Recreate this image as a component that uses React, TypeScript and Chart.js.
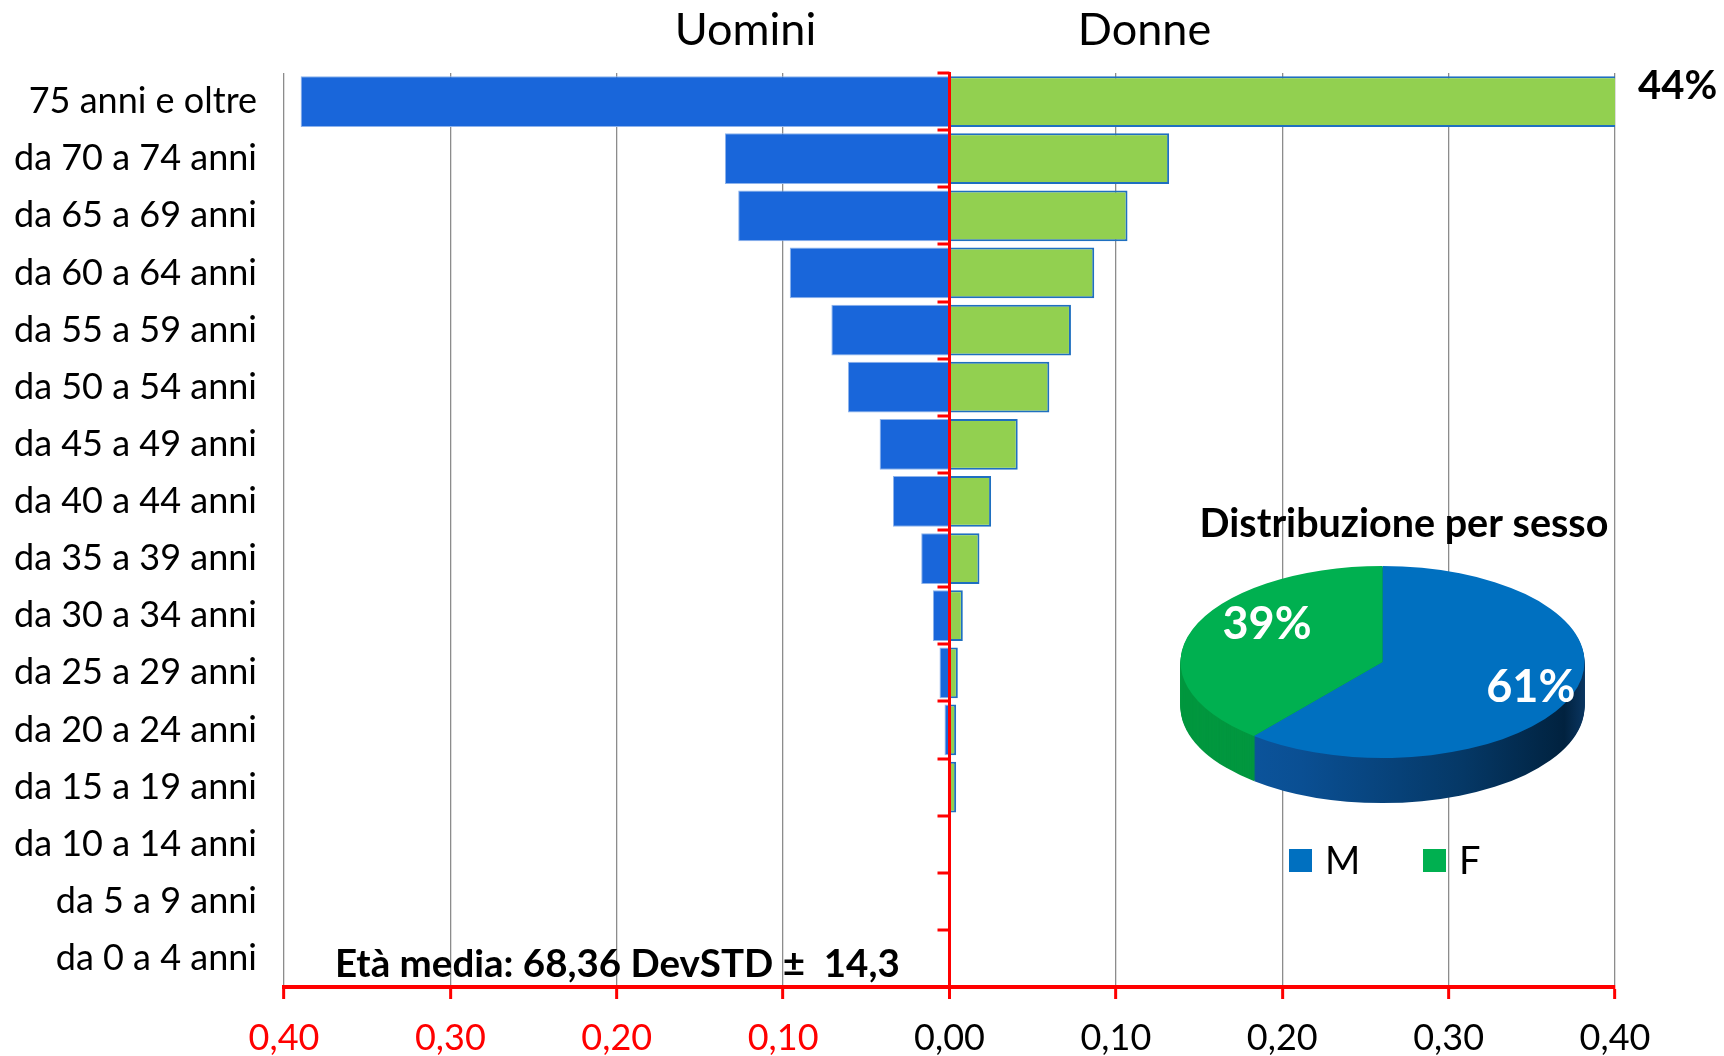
import React, { useEffect, useRef } from 'react';
import { Chart, registerables } from 'chart.js';

Chart.register(...registerables);

// ---------- data ----------
const categories = [
  '75 anni e oltre',
  'da 70 a 74 anni',
  'da 65 a 69 anni',
  'da 60 a 64 anni',
  'da 55 a 59 anni',
  'da 50 a 54 anni',
  'da 45 a 49 anni',
  'da 40 a 44 anni',
  'da 35 a 39 anni',
  'da 30 a 34 anni',
  'da 25 a 29 anni',
  'da 20 a 24 anni',
  'da 15 a 19 anni',
  'da 10 a 14 anni',
  'da 5 a 9 anni',
  'da 0 a 4 anni',
];
const maleShares = [0.39, 0.135, 0.127, 0.096, 0.071, 0.061, 0.042, 0.034, 0.017, 0.010, 0.006, 0.003, 0.001, 0, 0, 0];
const femaleShares = [0.44, 0.132, 0.107, 0.087, 0.073, 0.060, 0.041, 0.025, 0.018, 0.008, 0.005, 0.004, 0.004, 0, 0, 0];
const xMin = -0.4;
const xMax = 0.4;
const xStep = 0.1;
const sideTitles = ['Uomini', 'Donne'];
const meanAgeNote = 'Età media: 68,36 DevSTD ±  14,3';

const pieTitle = 'Distribuzione per sesso';
const pieLabels = ['M', 'F'];
const pieValues = [61, 39];
const pieColors = ['#0070c0', '#00b050'];

const FONT = 'Lato, "Noto Sans", sans-serif';
const W = 1724;
const H = 1056;

const fmtTick = (v: number) => Math.abs(v).toFixed(2).replace('.', ',');
const isZero = (v: number) => Math.abs(v) < 1e-9;

// ---------- bar chart overlay plugin ----------
const barOverlay = {
  id: 'barOverlay',
  afterDatasetsDraw(chart: any) {
    const { ctx, chartArea, scales } = chart;
    const xs = scales.x;
    const ys = scales.y;
    const x0 = xs.getPixelForValue(0);
    ctx.save();
    // red zero axis
    ctx.strokeStyle = '#ff0000';
    ctx.lineWidth = 3;
    ctx.beginPath();
    ctx.moveTo(x0, chartArea.top - 1);
    ctx.lineTo(x0, chartArea.bottom);
    ctx.stroke();
    // category boundary ticks
    for (let i = 0; i <= categories.length; i++) {
      const y = Math.round(ys.getPixelForValue(i - 0.5));
      ctx.beginPath();
      ctx.moveTo(x0 - 12, y);
      ctx.lineTo(x0, y);
      ctx.stroke();
    }
    // value labels for bars beyond the axis maximum
    const meta = chart.getDatasetMeta(1);
    femaleShares.forEach((v, i) => {
      if (v > xMax) {
        const bar = meta.data[i];
        ctx.fillStyle = '#000';
        ctx.font = `bold 40px ${FONT}`;
        ctx.textAlign = 'left';
        ctx.textBaseline = 'middle';
        ctx.fillText(`${Math.round(v * 100)}%`, chartArea.right + 23, bar.y - 15);
      }
    });
    ctx.restore();
  },
  afterDraw(chart: any) {
    const { ctx, chartArea } = chart;
    const x0 = chart.scales.x.getPixelForValue(0);
    ctx.save();
    ctx.fillStyle = '#000';
    ctx.textBaseline = 'middle';
    ctx.textAlign = 'center';
    ctx.font = `45px ${FONT}`;
    ctx.fillText(sideTitles[0], x0 - 204, 30);
    ctx.fillText(sideTitles[1], x0 + 195, 30);
    ctx.textAlign = 'left';
    ctx.textBaseline = 'alphabetic';
    ctx.font = `bold 38.5px ${FONT}`;
    ctx.fillText(meanAgeNote, chartArea.left + 51, 977);
    ctx.restore();
  },
};

// ---------- 3D pie plugin ----------
const PCX = 232.5;
const PCY = 182;
const PRX = 202;
const PRY = 96;
const PDEPTH = 45;

const pie3d = {
  id: 'pie3d',
  beforeDatasetsDraw(chart: any) {
    const { ctx } = chart;
    const meta = chart.getDatasetMeta(0);
    const a0 = meta.data[0];
    const r = a0.outerRadius;
    // side walls
    const gBlue = ctx.createLinearGradient(PCX - PRX, 0, PCX + PRX, 0);
    gBlue.addColorStop(0, '#0d5aa6');
    gBlue.addColorStop(0.3, '#0a4f93');
    gBlue.addColorStop(0.7, '#053866');
    gBlue.addColorStop(0.95, '#01223f');
    gBlue.addColorStop(1, '#0a3560');
    const sideFills = [gBlue, '#02973f'];
    for (let d = PDEPTH; d >= 1; d--) {
      meta.data.forEach((arc: any, i: number) => {
        ctx.beginPath();
        ctx.moveTo(PCX, PCY + d);
        ctx.ellipse(PCX, PCY + d, PRX, PRY, 0, arc.startAngle, arc.endAngle);
        ctx.closePath();
        ctx.fillStyle = sideFills[i];
        ctx.fill();
      });
    }
    // top face: map Chart.js circle onto the ellipse
    ctx.save();
    ctx.translate(PCX, PCY);
    ctx.scale(PRX / r, PRY / r);
    ctx.translate(-a0.x, -a0.y);
  },
  afterDatasetsDraw(chart: any) {
    const { ctx } = chart;
    ctx.restore();
    const meta = chart.getDatasetMeta(0);
    const total = pieValues.reduce((a, b) => a + b, 0);
    ctx.save();
    ctx.fillStyle = '#ffffff';
    ctx.font = `bold 45px ${FONT}`;
    ctx.textAlign = 'center';
    ctx.textBaseline = 'middle';
    meta.data.forEach((arc: any, i: number) => {
      const mid = (arc.startAngle + arc.endAngle) / 2;
      const f = 0.78;
      let x = PCX + Math.cos(mid) * PRX * f;
      const y = PCY + Math.sin(mid) * PRY * f - (Math.cos(mid) < 0 ? 12 : 0);
      // keep label inside the top ellipse
      const half = ctx.measureText('00%').width / 2;
      const dy = (y - PCY) / PRY;
      const lim = PRX * Math.sqrt(Math.max(0, 1 - dy * dy)) - half - 26;
      if (x - PCX < -lim) x = PCX - lim;
      ctx.fillText(`${Math.round((pieValues[i] / total) * 100)}%`, x, y);
    });
    // legend
    const legendX = [139, 273];
    const ly = 381;
    ctx.font = `38px ${FONT}`;
    ctx.textAlign = 'left';
    pieLabels.forEach((lab, i) => {
      ctx.fillStyle = pieColors[i];
      ctx.fillRect(legendX[i], ly - 12, 23, 23);
      ctx.fillStyle = '#000';
      ctx.fillText(lab, legendX[i] + 36, ly + 1);
    });
    ctx.restore();
  },
};

export default function App() {
  const barRef = useRef<HTMLCanvasElement>(null);
  const pieRef = useRef<HTMLCanvasElement>(null);

  useEffect(() => {
    const bar = new Chart(barRef.current as HTMLCanvasElement, {
      type: 'bar',
      data: {
        labels: categories,
        datasets: [
          {
            label: sideTitles[0],
            data: maleShares.map((v) => -v),
            backgroundColor: '#1966da',
            borderColor: '#8db3ec',
            borderWidth: 1,
            barPercentage: 0.887,
            categoryPercentage: 1,
          },
          {
            label: sideTitles[1],
            data: femaleShares,
            backgroundColor: '#92d050',
            borderColor: '#1f6fc0',
            borderWidth: 2,
            barPercentage: 0.887,
            categoryPercentage: 1,
          },
        ],
      },
      options: {
        indexAxis: 'y',
        responsive: false,
        animation: false,
        layout: { padding: { left: 0, right: 109, top: 73, bottom: 0 } },
        plugins: {
          legend: { display: false },
          tooltip: { enabled: false },
          title: { display: false },
        },
        scales: {
          x: {
            type: 'linear',
            min: xMin,
            max: xMax,
            stacked: true,
            ticks: {
              stepSize: xStep,
              color: (c: any) => (c.tick && c.tick.value < -1e-9 ? '#ff0000' : '#000000'),
              font: { family: FONT, size: 36 },
              padding: 18,
              callback: (v: any) => fmtTick(Number(v)),
            },
            grid: {
              color: (c: any) => (c.tick && isZero(c.tick.value) ? '#ff0000' : '#8c8c8c'),
              lineWidth: (c: any) => (c.tick && isZero(c.tick.value) ? 3 : 1.3),
              tickColor: '#ff0000',
              tickWidth: 3,
              tickLength: 12,
              drawTicks: true,
            },
            border: { color: '#ff0000', width: 4 },
            afterFit: (s: any) => {
              s.height = 69;
            },
          },
          y: {
            stacked: true,
            grid: { display: false, drawTicks: false },
            border: { display: false },
            ticks: {
              color: '#000000',
              font: { family: FONT, size: 36 },
              padding: 27,
              autoSkip: false,
            },
            afterFit: (s: any) => {
              s.width = 284;
            },
          },
        },
      } as any,
      plugins: [barOverlay],
    });

    const pie = new Chart(pieRef.current as HTMLCanvasElement, {
      type: 'pie',
      data: {
        labels: pieLabels,
        datasets: [
          {
            data: pieValues,
            backgroundColor: pieColors,
            borderWidth: 0,
          },
        ],
      },
      options: {
        responsive: false,
        animation: false,
        layout: { padding: 0 },
        plugins: {
          legend: { display: false },
          tooltip: { enabled: false },
          title: {
            display: true,
            text: pieTitle,
            color: '#000000',
            font: { family: FONT, size: 39.5, weight: 'bold' },
            padding: { top: 21, bottom: 10 },
          },
        },
      } as any,
      plugins: [pie3d],
    });

    return () => {
      bar.destroy();
      pie.destroy();
    };
  }, []);

  return (
    <div style={{ position: 'absolute', left: 0, top: 0, width: W, height: H, background: '#ffffff' }}>
      <canvas ref={barRef} width={W} height={H} style={{ position: 'absolute', left: 0, top: 0 }} />
      <canvas ref={pieRef} width={508} height={420} style={{ position: 'absolute', left: 1150, top: 480 }} />
    </div>
  );
}
